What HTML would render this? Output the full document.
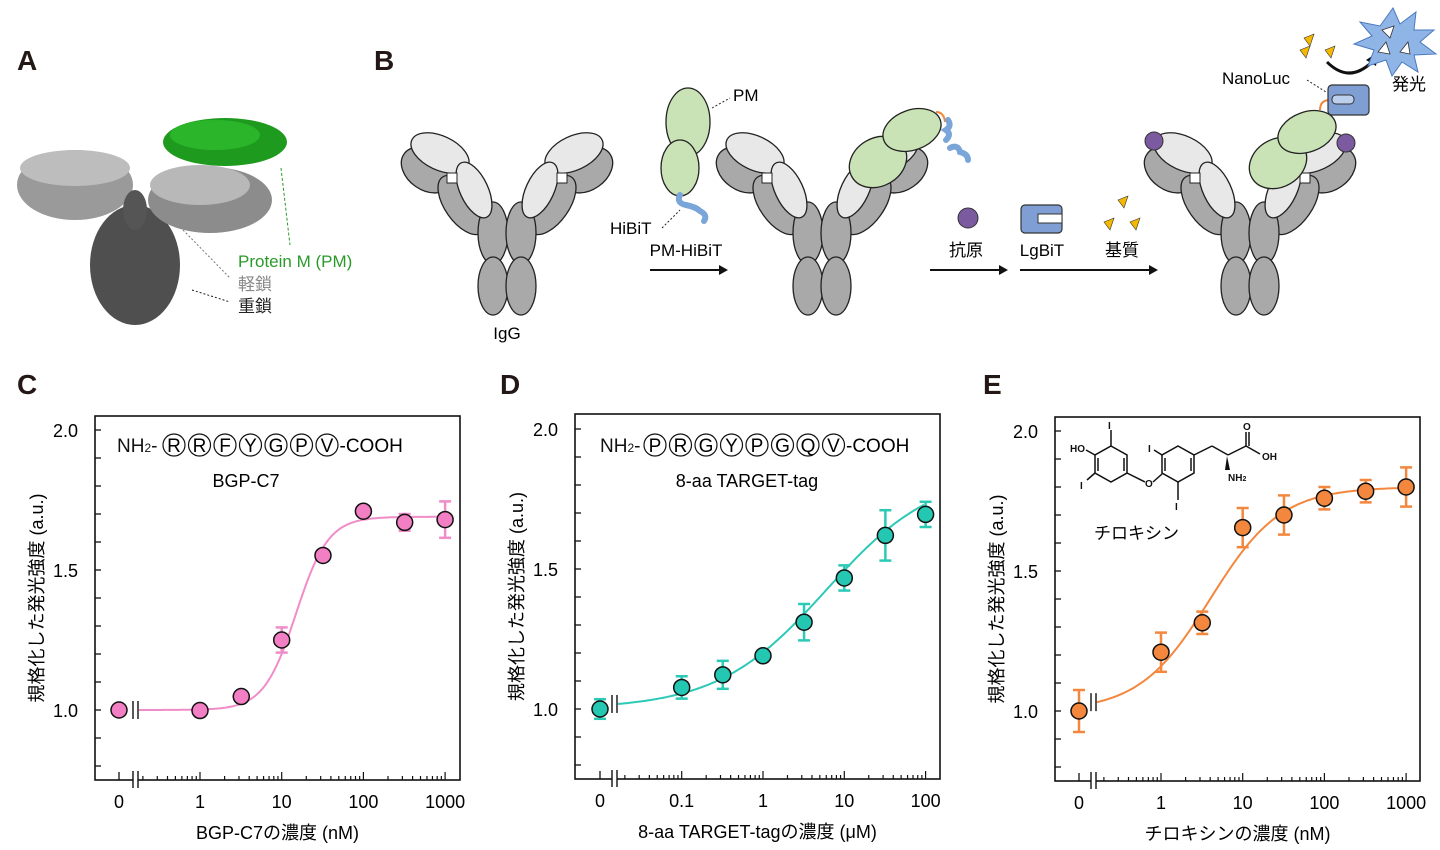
<!DOCTYPE html>
<html><head><meta charset="utf-8">
<style>
html,body{margin:0;padding:0;background:#fff;}
svg{display:block;font-family:"Liberation Sans","Noto Sans CJK JP",sans-serif;}
</style></head>
<body>
<svg id="s" width="1440" height="850" viewBox="0 0 1440 850" xmlns="http://www.w3.org/2000/svg">
<defs>
<g id="ab">
  <g id="half">
    <ellipse cx="-80" cy="35" rx="28" ry="20" transform="rotate(35 -80 35)" fill="#a9a9a9" stroke="#222" stroke-width="1.3"/>
    <ellipse cx="-45" cy="70" rx="34" ry="17" transform="rotate(55 -45 70)" fill="#a9a9a9" stroke="#222" stroke-width="1.3"/>
    <ellipse cx="-14" cy="98" rx="15" ry="31" fill="#a9a9a9" stroke="#222" stroke-width="1.3"/>
    <ellipse cx="-14" cy="151" rx="15" ry="29" fill="#a9a9a9" stroke="#222" stroke-width="1.3"/>
    <ellipse cx="-67" cy="18" rx="31" ry="17" transform="rotate(25 -67 18)" fill="#e8e8e8" stroke="#222" stroke-width="1.3"/>
    <ellipse cx="-33" cy="55" rx="30" ry="14" transform="rotate(65 -33 55)" fill="#e8e8e8" stroke="#222" stroke-width="1.3"/>
    <rect x="-60" y="38" width="10" height="10" fill="#fff" stroke="#222" stroke-width="1"/>
  </g>
  <use href="#half" transform="scale(-1,1)"/>
</g>
<g id="tri"><polygon points="0,0 10,-4 6,8" fill="#f5b800" stroke="#333" stroke-width="0.6"/></g>
</defs>

<!-- Panel labels -->
<g font-weight="bold" font-size="28" fill="#231815">
<text x="17" y="70">A</text><text x="374" y="70">B</text>
<text x="17" y="394">C</text><text x="500" y="394">D</text><text x="983" y="394">E</text>
</g>

<!-- Panel A structure -->
<g>
  <ellipse cx="75" cy="185" rx="58" ry="35" fill="#9a9a9a"/>
  <ellipse cx="75" cy="168" rx="55" ry="18" fill="#bdbdbd"/>
  <ellipse cx="135" cy="265" rx="45" ry="60" fill="#4f4f4f"/>
  <ellipse cx="135" cy="210" rx="12" ry="20" fill="#555"/>
  <ellipse cx="210" cy="200" rx="62" ry="33" fill="#8c8c8c"/>
  <ellipse cx="200" cy="185" rx="50" ry="20" fill="#b8b8b8"/>
  <ellipse cx="225" cy="142" rx="62" ry="24" fill="#1e9b1e"/>
  <ellipse cx="215" cy="135" rx="45" ry="15" fill="#2bb52b"/>
  <line x1="281" y1="168" x2="290" y2="245" stroke="#2a9a2a" stroke-dasharray="3,2"/>
  <line x1="183" y1="230" x2="230" y2="278" stroke="#777" stroke-dasharray="2,2"/>
  <line x1="192" y1="290" x2="230" y2="302" stroke="#222" stroke-dasharray="2,2"/>
  <text x="238" y="267" font-size="17" fill="#2a9a2a">Protein M (PM)</text>
  <text x="238" y="290" font-size="17" fill="#888">軽鎖</text>
  <text x="238" y="312" font-size="17" fill="#222">重鎖</text>
</g>

<!-- Panel B -->
<use href="#ab" transform="translate(507,135)"/>
<text x="507" y="339" font-size="17" text-anchor="middle">IgG</text>
<!-- free PM -->
<ellipse cx="688" cy="122" rx="22" ry="34" fill="#c9e3b7" stroke="#222" stroke-width="1.3"/>
<ellipse cx="680" cy="168" rx="19" ry="28" fill="#c9e3b7" stroke="#222" stroke-width="1.3"/>
<path d="M680 195 q-4 8 6 10 q10 2 14 6 q8 4 4 10" fill="none" stroke="#7aa5d8" stroke-width="6" stroke-linecap="round"/>
<line x1="712" y1="108" x2="730" y2="98" stroke="#222" stroke-dasharray="2,2"/>
<text x="733" y="101" font-size="17">PM</text>
<line x1="662" y1="228" x2="680" y2="210" stroke="#222" stroke-dasharray="2,2"/>
<text x="610" y="234" font-size="17">HiBiT</text>
<text x="686" y="256" font-size="17" text-anchor="middle">PM-HiBiT</text>
<g stroke="#111" stroke-width="2"><line x1="650" y1="270" x2="722" y2="270"/><line x1="930" y1="270" x2="1002" y2="270"/><line x1="1020" y1="270" x2="1152" y2="270"/></g>
<g fill="#111"><polygon points="728,270 719,265 719,275"/><polygon points="1008,270 999,265 999,275"/><polygon points="1158,270 1149,265 1149,275"/></g>

<use href="#ab" transform="translate(822,135)"/>
<ellipse cx="878" cy="162" rx="30" ry="24" transform="rotate(-30 878 162)" fill="#c9e3b7" stroke="#222" stroke-width="1.3"/>
<ellipse cx="912" cy="130" rx="30" ry="20" transform="rotate(-20 912 130)" fill="#c9e3b7" stroke="#222" stroke-width="1.3"/>
<path d="M936 112 q8 0 9 10" fill="none" stroke="#ef8a3a" stroke-width="2"/>
<path d="M948 120 q4 6 -2 10 q6 4 0 10 M950 148 q8 -4 10 4 q8 2 8 8" fill="none" stroke="#7aa5d8" stroke-width="6" stroke-linecap="round"/>

<circle cx="968" cy="218" r="10" fill="#7b5aa0" stroke="#333" stroke-width="1"/>
<rect x="1021" y="205" width="41" height="28" rx="4" fill="#7f9fd4" stroke="#333" stroke-width="1.2"/>
<rect x="1038" y="214" width="24" height="9" fill="#fff" stroke="#333" stroke-width="1"/>
<use href="#tri" transform="translate(1118,200)"/><use href="#tri" transform="translate(1104,222)"/><use href="#tri" transform="translate(1130,222)"/>
<text x="966" y="256" font-size="17" text-anchor="middle">抗原</text>
<text x="1042" y="256" font-size="17" text-anchor="middle">LgBiT</text>
<text x="1122" y="256" font-size="17" text-anchor="middle">基質</text>

<use href="#ab" transform="translate(1250,135)"/>
<circle cx="1154" cy="141" r="9" fill="#7b5aa0" stroke="#333" stroke-width="1"/>
<circle cx="1346" cy="143" r="9" fill="#7b5aa0" stroke="#333" stroke-width="1"/>
<ellipse cx="1278" cy="163" rx="30" ry="24" transform="rotate(-30 1278 163)" fill="#c9e3b7" stroke="#222" stroke-width="1.3"/>
<ellipse cx="1307" cy="132" rx="30" ry="20" transform="rotate(-20 1307 132)" fill="#c9e3b7" stroke="#222" stroke-width="1.3"/>
<path d="M1320 110 q0 -10 10 -10" fill="none" stroke="#ef8a3a" stroke-width="2"/>
<rect x="1328" y="85" width="41" height="30" rx="4" fill="#7f9fd4" stroke="#333" stroke-width="1.2"/>
<rect x="1332" y="95" width="22" height="9" rx="4" fill="#bcd0ee" stroke="#333" stroke-width="1"/>
<line x1="1307" y1="80" x2="1326" y2="92" stroke="#222" stroke-dasharray="2,2"/>
<text x="1222" y="84" font-size="17">NanoLuc</text>
<path d="M1327 62 q22 22 45 0" fill="none" stroke="#111" stroke-width="3"/>
<polygon points="1378,52 1366,60 1376,66" fill="#111"/>
<use href="#tri" transform="translate(1304,38)"/><use href="#tri" transform="translate(1300,50)"/><use href="#tri" transform="translate(1325,50)"/>
<polygon points="1393,8 1400,24 1416,12 1414,30 1434,30 1420,42 1436,54 1414,55 1418,72 1402,62 1392,76 1386,60 1368,66 1374,50 1354,44 1372,36 1360,22 1380,26" fill="#8fb4e6" stroke="#4a78c0" stroke-width="1"/>
<polygon points="1382,30 1394,26 1390,38" fill="#fff" stroke="#333" stroke-width="0.8"/>
<polygon points="1378,52 1386,42 1390,54" fill="#fff" stroke="#333" stroke-width="0.8"/>
<polygon points="1400,52 1408,42 1410,54" fill="#fff" stroke="#333" stroke-width="0.8"/>
<text x="1392" y="90" font-size="17">発光</text>

<!-- Chart annotations -->
<g font-size="19" fill="#111">
<text x="117" y="452">NH<tspan font-size="12">2</tspan>-</text>
<text x="600" y="452">NH<tspan font-size="12">2</tspan>-</text>
</g>
<g id="pepC"></g>
<text x="246" y="487" font-size="18" text-anchor="middle">BGP-C7</text>
<text x="747" y="487" font-size="18" text-anchor="middle">8-aa TARGET-tag</text>

<!-- thyroxine -->
<g stroke="#111" stroke-width="1.5" fill="none">
  <polygon points="1111,446 1127,455 1127,473 1111,482 1095,473 1095,455"/>
  <line x1="1124" y1="458" x2="1124" y2="471"/><line x1="1098" y1="458" x2="1098" y2="471"/><line x1="1111" y1="478" x2="1111" y2="478"/>
  <line x1="1111" y1="446" x2="1111" y2="430"/>
  <line x1="1095" y1="455" x2="1086" y2="450"/>
  <line x1="1095" y1="473" x2="1087" y2="480"/>
  <line x1="1127" y1="473" x2="1145" y2="482"/>
  <line x1="1153" y1="482" x2="1162" y2="474"/>
  <polygon points="1178,446 1194,455 1194,473 1178,482 1162,473 1162,455"/>
  <line x1="1165" y1="458" x2="1165" y2="471"/><line x1="1191" y1="458" x2="1191" y2="471"/>
  <line x1="1162" y1="455" x2="1154" y2="450"/>
  <line x1="1178" y1="482" x2="1178" y2="500"/>
  <line x1="1194" y1="455" x2="1212" y2="446"/>
  <line x1="1212" y1="446" x2="1228" y2="455"/>
  <line x1="1228" y1="455" x2="1246" y2="446"/>
  <line x1="1246" y1="446" x2="1246" y2="432"/><line x1="1249" y1="446" x2="1249" y2="432"/>
  <line x1="1246" y1="446" x2="1260" y2="454"/>
</g>
<polygon points="1227,456 1225,470 1230,470" fill="#111"/>
<g font-size="10" font-weight="bold" fill="#111">
<text x="1070" y="452">HO</text><text x="1108" y="429">I</text><text x="1080" y="489">I</text>
<text x="1145" y="487">O</text><text x="1148" y="452">I</text><text x="1175" y="510">I</text>
<text x="1243" y="430">O</text><text x="1262" y="460">OH</text><text x="1228" y="481">NH<tspan font-size="7">2</tspan></text>
</g>
<text x="1094" y="539" font-size="17">チロキシン</text>

<g id="charts"></g>
</svg>
<script>
var NS="http://www.w3.org/2000/svg";
var root=document.getElementById("charts");
function el(t,a,p){var e=document.createElementNS(NS,t);for(var k in a)e.setAttribute(k,a[k]);(p||root).appendChild(e);return e;}
function txt(x,y,s,a){var e=el("text",Object.assign({x:x,y:y},a||{}));e.textContent=s;return e;}
// peptide circles
function pep(x0,letters,y){var x=x0;letters.forEach(function(L){el("circle",{cx:x,cy:y-7,r:11,fill:"#fff",stroke:"#111","stroke-width":1.2});txt(x,y,L,{"font-size":19,"text-anchor":"middle"});x+=25.5;});txt(x-13,y,"-COOH",{"font-size":19});}
pep(174,["R","R","F","Y","G","P","V"],452);
pep(655,["P","R","G","Y","P","G","Q","V"],452);

function chart(o){
  var Y=function(v){return o.y1-(v-1)*280;};
  var X=function(v){return v===0?o.xz:o.x1+Math.log10(v)*o.dec;};
  // y label
  var cy=(o.top+o.bot)/2;
  txt(0,0,"規格化した発光強度 (a.u.)",{"font-size":18,"text-anchor":"middle",transform:"translate("+(o.left-52)+","+cy+") rotate(-90)"});
  // y ticks
  for(var i=8;i<=20;i++){var v=i/10,y=Y(v);if(y<o.top||y>o.bot)continue;el("line",{x1:o.left,y1:y,x2:o.left+6,y2:y,stroke:"#111","stroke-width":1.3});}
  [1.0,1.5,2.0].forEach(function(v){txt(o.left-17,Y(v)+7,v.toFixed(1),{"font-size":18,"text-anchor":"end"});});
  // x ticks
  el("line",{x1:o.xz,y1:o.bot,x2:o.xz,y2:o.bot-8,stroke:"#111","stroke-width":1.3});
  var bv=Math.pow(10,(o.brk+6-o.x1)/o.dec);
  for(var e=o.e0;e<=o.e1;e++){
    for(var m=1;m<=9;m++){var v=m*Math.pow(10,e);if(v<bv)continue;if(e===o.e1&&m>1)break;var x=X(v);
      el("line",{x1:x,y1:o.bot,x2:x,y2:o.bot-(m===1?8:4),stroke:"#111","stroke-width":1.2});}
  }
  o.labels.forEach(function(l){txt(l[0]==="0"?o.xz:X(parseFloat(l[0])),o.bot+28,l[0],{"font-size":18,"text-anchor":"middle"});});
  txt((o.left+o.right)/2,o.bot+59,o.xlabel,{"font-size":18,"text-anchor":"middle"});
  // box
  el("rect",{x:o.left,y:o.top,width:o.right-o.left,height:o.bot-o.top,fill:"none",stroke:"#111","stroke-width":1.6});
  // break
  el("rect",{x:o.brk,y:o.bot-3,width:5,height:6,fill:"#fff"});
  el("line",{x1:o.brk,y1:o.bot-9,x2:o.brk,y2:o.bot+8,stroke:"#111","stroke-width":1.4});
  el("line",{x1:o.brk+5,y1:o.bot-9,x2:o.brk+5,y2:o.bot+8,stroke:"#111","stroke-width":1.4});
  // curve break marks
  var y0=Y(o.f(bv));
  el("line",{x1:o.brk,y1:y0-9,x2:o.brk,y2:y0+9,stroke:"#111","stroke-width":1.4});
  el("line",{x1:o.brk+5,y1:y0-9,x2:o.brk+5,y2:y0+9,stroke:"#111","stroke-width":1.4});
  // curve
  var d="";var xs=o.brk+6,xe=X(o.data[o.data.length-1][0]);
  for(var x=xs;x<=xe;x+=2){var v=Math.pow(10,(x-o.x1)/o.dec);d+=(d?"L":"M")+x.toFixed(1)+" "+Y(o.f(v)).toFixed(1);}
  el("path",{d:d,fill:"none",stroke:o.lc,"stroke-width":2});
  // data
  o.data.forEach(function(p){var x=X(p[0]),y=Y(p[1]);
    if(p[2]){var a=Y(p[1]+p[2]),b=Y(p[1]-p[2]);
      el("line",{x1:x,y1:a,x2:x,y2:b,stroke:o.lc,"stroke-width":2.5});
      el("line",{x1:x-6,y1:a,x2:x+6,y2:a,stroke:o.lc,"stroke-width":2.5});
      el("line",{x1:x-6,y1:b,x2:x+6,y2:b,stroke:o.lc,"stroke-width":2.5});}
    el("circle",{cx:x,cy:y,r:8,fill:o.fc,stroke:"#111","stroke-width":1.5});});
}
chart({left:95,right:460,top:416,bot:780,y1:710,xz:119,x1:200,dec:81.7,brk:133,e0:-1,e1:3,
  labels:[["0"],["1"],["10"],["100"],["1000"]],xlabel:"BGP-C7の濃度 (nM)",lc:"#f08cc8",fc:"#f27fc3",
  f:function(v){return 1+0.69/(1+Math.pow(15/v,2.2));},
  data:[[0,1.0,0],[1,0.998,0.02],[3.2,1.048,0],[10,1.25,0.045],[32,1.552,0],[100,1.71,0],[320,1.67,0.03],[1000,1.68,0.065]]});
chart({left:575,right:940,top:414,bot:779,y1:709,xz:600,x1:763,dec:81.3,brk:612,e0:-2,e1:2,
  labels:[["0"],["0.1"],["1"],["10"],["100"]],xlabel:"8-aa TARGET-tagの濃度 (μM)",lc:"#2cc9b7",fc:"#23c7b2",
  f:function(v){return 1+0.85/(1+Math.pow(6/v,0.65));},
  data:[[0,1.0,0.035],[0.1,1.077,0.04],[0.32,1.122,0.05],[1,1.19,0],[3.2,1.31,0.065],[10,1.468,0.045],[32,1.62,0.09],[100,1.695,0.045]]});
chart({left:1055,right:1420,top:417,bot:781,y1:711,xz:1079,x1:1161,dec:81.7,brk:1091,e0:-1,e1:3,
  labels:[["0"],["1"],["10"],["100"],["1000"]],xlabel:"チロキシンの濃度 (nM)",lc:"#f3873e",fc:"#f3873e",
  f:function(v){return 1+0.8/(1+Math.pow(4/v,1.0));},
  data:[[0,1.0,0.075],[1,1.21,0.07],[3.2,1.315,0.04],[10,1.655,0.07],[32,1.7,0.07],[100,1.76,0.04],[320,1.785,0.04],[1000,1.80,0.07]]});
</script>
</body></html>
